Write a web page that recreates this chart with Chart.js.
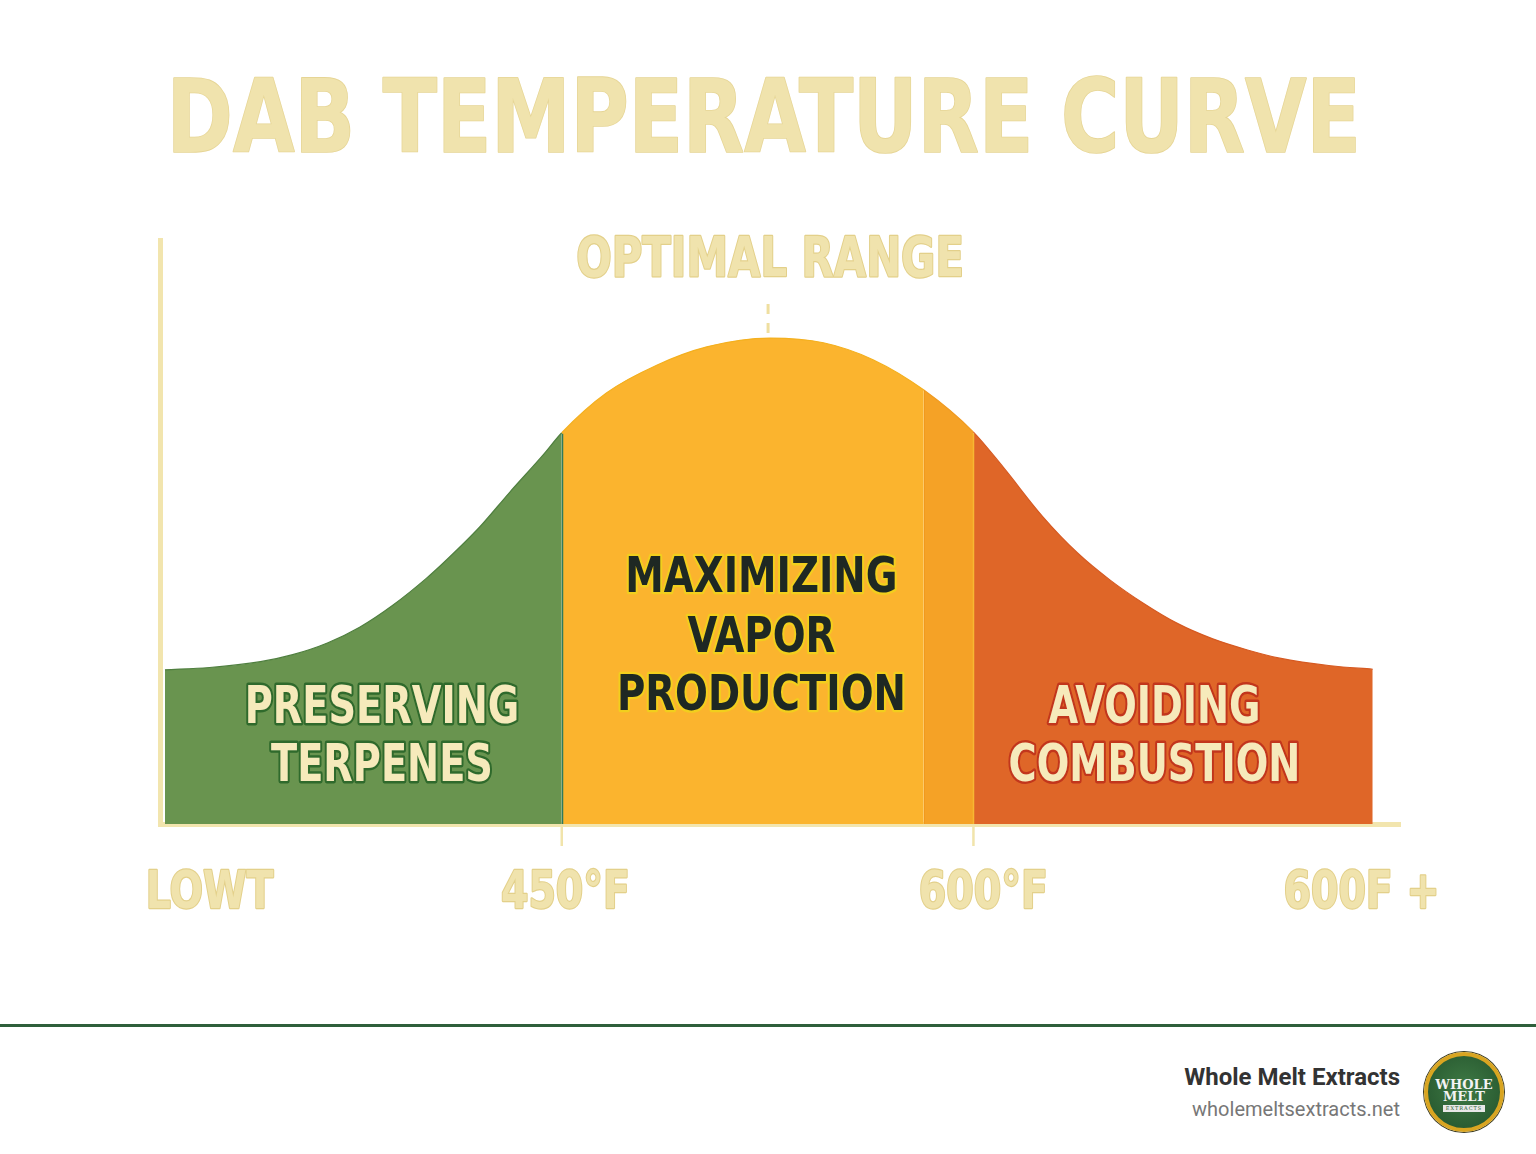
<!DOCTYPE html>
<html>
<head>
<meta charset="utf-8">
<script src="https://cdn.jsdelivr.net/npm/chart.js@4.4.1/dist/chart.umd.min.js"></script>
<style>
  html, body { margin: 0; padding: 0; background: #ffffff; }
  body { width: 1536px; height: 1154px; position: relative; overflow: hidden; }
  #chartWrap { position: absolute; left: 0; top: 0; width: 1536px; height: 1000px; }
  #footerLine { position: absolute; left: 0; top: 1024px; width: 1536px; height: 3px; background: #2f5f3b; }
  #brand { position: absolute; right: 136px; top: 1062px; text-align: right; font-family: Roboto, 'Noto Sans', sans-serif; }
  #brand .name { font-size: 24px; font-weight: 700; color: #333333; line-height: 30px; }
  #brand .url { font-size: 20px; color: #777777; line-height: 34px; }
  #logo { position: absolute; left: 1424px; top: 1052px; width: 72px; height: 72px; border-radius: 50%;
          background: radial-gradient(circle at 50% 45%, #3f7a45 0%, #2b5e33 70%, #234d2a 100%);
          border: 4px solid #d9a521; box-shadow: 0 0 0 1px #3a3a20; display: flex; flex-direction: column;
          align-items: center; justify-content: center; font-family: 'DejaVu Serif', 'Liberation Serif', serif; color: #f3f3f3; }
  #logo .l1 { font-size: 13px; font-weight: 700; line-height: 12px; margin-top: 6px; }
  #logo .l2 { font-size: 13px; font-weight: 700; line-height: 12px; }
  #logo .l3 { font-size: 5px; line-height: 7px; background: #e8e8e8; color: #2b5e33; padding: 0 3px; margin-top: 2px; letter-spacing: 1px; }
</style>
</head>
<body>
<div id="chartWrap"><canvas id="c" width="1536" height="1000"></canvas></div>
<div id="footerLine"></div>
<div id="brand"><div class="name">Whole Melt Extracts</div><div class="url">wholemeltsextracts.net</div></div>
<div id="logo"><div class="l1">WHOLE</div><div class="l2">MELT</div><div class="l3">EXTRACTS</div></div>
<script>
// ---- data ----
const curveX = [0.4, 4.0, 8.1, 10.7, 13.5, 16.1, 18.8, 21.5, 23.1, 25.8, 28.2, 30.9, 32.4, 36.0, 40.1, 44.1, 49.2, 53.5, 57.5, 61.6, 65.6, 68.0, 71.2, 74.0, 76.6, 79.3, 82.0, 84.9, 87.7, 90.3, 94.4, 97.8];
const curveY = [26.4, 26.8, 27.8, 29.0, 31.0, 33.7, 37.5, 42.1, 45.2, 50.9, 56.8, 63.2, 67.0, 73.8, 78.6, 81.7, 83.2, 82.4, 79.5, 74.3, 67.1, 61.1, 52.6, 46.4, 41.8, 37.8, 34.4, 31.7, 29.8, 28.4, 27.1, 26.5];
const zoneStarts = [0, 32.4, 61.6, 65.6];
const zoneColors = ['#69944f', '#fbb42e', '#f5a226', '#df6628'];
const zoneEdgeColors = ['#4f7f3f', '#f4b01f', '#f09a20', '#d65a22'];
const boundaryTicks = [32.4, 65.6];
const tickValues = [4.0, 32.7, 66.4, 96.9];
const tickLabels = ['LOWT', '450°F', '600°F', '600F +'];
const titleText = 'DAB TEMPERATURE CURVE';
const peakLabel = 'OPTIMAL RANGE';
const regionLines = [
  ['PRESERVING', 'TERPENES'],
  ['MAXIMIZING', 'VAPOR', 'PRODUCTION'],
  ['AVOIDING', 'COMBUSTION']
];

const FONT = "'Liberation Sans Narrow', 'DejaVu Sans Condensed', 'Roboto Condensed', sans-serif";
const PALE = '#f0e3ad';

function zoneIndex(x) {
  let k = 0;
  for (let i = 0; i < zoneStarts.length; i++) if (x >= zoneStarts[i] - 1e-9) k = i;
  return k;
}

// draws text centred at x with its cap height centred on cy, horizontally condensed by sx
function capText(ctx, t, x, cy, size, sx, fill, stroke, lw) {
  ctx.save();
  ctx.font = 'bold ' + size + 'px ' + FONT;
  ctx.textAlign = 'center';
  ctx.textBaseline = 'alphabetic';
  ctx.lineJoin = 'round';
  ctx.translate(x, cy + size * 0.729 / 2);
  ctx.scale(sx, 1);
  if (stroke && lw) { ctx.lineWidth = lw / sx; ctx.strokeStyle = stroke; ctx.strokeText(t, 0, 0); }
  ctx.fillStyle = fill;
  ctx.fillText(t, 0, 0);
  ctx.restore();
}

const decor = {
  id: 'decor',
  afterDatasetsDraw(chart, args, opts) {
    const ctx = chart.ctx;
    const xs = chart.scales.x, ys = chart.scales.y;
    const bottom = ys.getPixelForValue(0);
    ctx.save();
    // boundary lines inside the area
    const bColors = ['#2f7a5c', 'rgba(236,146,24,0.55)', '#f7b733'];
    for (let b = 1; b < zoneStarts.length; b++) {
      const xv = zoneStarts[b];
      const idx = curveX.indexOf(xv);
      const yv = idx >= 0 ? curveY[idx] : 0;
      const px = Math.round(xs.getPixelForValue(xv)) + 0.5;
      ctx.strokeStyle = bColors[b - 1];
      ctx.lineWidth = b === 2 ? 1 : 1.5;
      ctx.beginPath();
      ctx.moveTo(px, ys.getPixelForValue(yv) + 1);
      ctx.lineTo(px, bottom);
      ctx.stroke();
    }
    // tick marks at the boundaries
    ctx.strokeStyle = '#f1e4ab';
    ctx.lineWidth = 2.5;
    boundaryTicks.forEach(v => {
      const px = xs.getPixelForValue(v);
      ctx.beginPath();
      ctx.moveTo(px, bottom);
      ctx.lineTo(px, bottom + 22);
      ctx.stroke();
    });
    // dashed peak marker
    let pk = 0;
    curveY.forEach((v, i) => { if (v > curveY[pk]) pk = i; });
    const pxPeak = xs.getPixelForValue(curveX[pk]) - 2;
    const pyPeak = ys.getPixelForValue(curveY[pk]);
    ctx.strokeStyle = '#efdfa0';
    ctx.lineWidth = 3;
    ctx.setLineDash([10, 9]);
    ctx.beginPath();
    ctx.moveTo(pxPeak, pyPeak - 34);
    ctx.lineTo(pxPeak, pyPeak - 4);
    ctx.stroke();
    ctx.setLineDash([]);
    ctx.restore();

    // chart title (condensed), centred in the title block
    const tb = chart.titleBlock;
    capText(ctx, titleText, xs.getPixelForValue(opts.titleX), tb.top + tb.height * 0.48, 101, 0.875, PALE, '#e6d595', 1.5);

    // optimal range label
    capText(ctx, peakLabel, pxPeak + 2, pyPeak - 82, 55, 0.845, PALE, '#e3d08a', 2);

    // region labels
    const styles = [
      { fill: '#f6eabb', stroke: '#2f6a2c', size: 51, sx: 0.835 },
      { fill: '#1e2823', stroke: '#f2cf1d', size: 50, sx: 0.86 },
      { fill: '#f6eabb', stroke: '#c2361c', size: 51, sx: 0.835 }
    ];
    opts.anchorsX.forEach((ax, r) => {
      const cx = xs.getPixelForValue(ax);
      regionLines[r].forEach((t, j) => {
        const cy = ys.getPixelForValue(opts.anchorsY[r][j]);
        capText(ctx, t, cx, cy, styles[r].size, styles[r].sx, styles[r].fill, styles[r].stroke, 4);
      });
    });

    // x tick labels, at the scale's own ticks
    const labelCY = bottom + xs.options.ticks.padding + 25;
    xs.ticks.forEach((tk, i) => {
      capText(ctx, tickLabels[i], xs.getPixelForValue(tk.value), labelCY, 51, 0.86, PALE, '#e3d08a', 2);
    });
  }
};

const points = curveX.map((x, i) => ({ x: x, y: curveY[i] }));

new Chart(document.getElementById('c'), {
  type: 'line',
  data: {
    datasets: [{
      data: points,
      fill: 'origin',
      backgroundColor: zoneColors[0],
      borderColor: zoneEdgeColors[0],
      borderWidth: 1.2,
      pointRadius: 0,
      cubicInterpolationMode: 'monotone',
      segment: {
        backgroundColor: c => zoneColors[zoneIndex(c.p0.parsed.x)],
        borderColor: c => zoneEdgeColors[zoneIndex(c.p0.parsed.x)]
      }
    }]
  },
  options: {
    responsive: false,
    animation: false,
    devicePixelRatio: 1,
    layout: { padding: { left: 160, right: 136, top: 0, bottom: 46 } },
    plugins: {
      legend: { display: false },
      tooltip: { enabled: false },
      title: {
        display: true,
        text: titleText,
        color: 'rgba(0,0,0,0)',
        font: { family: FONT, size: 101, weight: 'bold', lineHeight: 1 },
        padding: { top: 74, bottom: 65 }
      },
      decor: {
        titleX: 48.7,
        anchorsX: [17.9, 48.5, 80.2],
        anchorsY: [[20.5, 10.6], [42.8, 32.5, 22.7], [20.5, 10.6]]
      }
    },
    scales: {
      x: {
        type: 'linear',
        min: 0,
        max: 100,
        grid: { display: false, drawTicks: false },
        border: { display: true, color: '#f2e5ae', width: 5 },
        afterBuildTicks: s => { s.ticks = tickValues.map(v => ({ value: v })); },
        ticks: {
          autoSkip: false,
          maxRotation: 0,
          padding: 40,
          color: 'rgba(0,0,0,0)',
          font: { family: FONT, size: 50, weight: 'bold', lineHeight: 1 },
          callback: (v, i) => tickLabels[i]
        }
      },
      y: {
        type: 'linear',
        min: 0,
        max: 100,
        grid: { display: false, drawTicks: false },
        border: { display: true, color: '#f2e5ae', width: 5 },
        ticks: { display: false }
      }
    }
  },
  plugins: [decor]
});
</script>
</body>
</html>
